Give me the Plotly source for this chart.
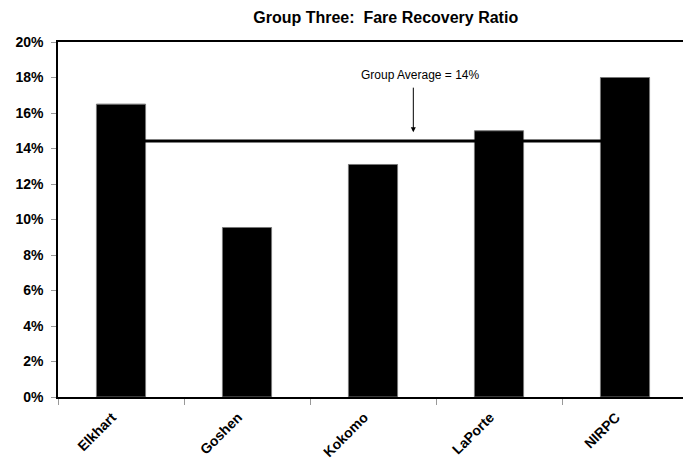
"""Group Three fare recovery ratio bar chart."""

import plotly.graph_objects as go

agencies = ["Elkhart", "Goshen", "Kokomo", "LaPorte", "NIRPC"]
fare_recovery = [16.5, 9.55, 13.1, 15.0, 18.0]
group_average = 14.42
avg_label = "Group Average = 14%"
y_ticks = [0, 2, 4, 6, 8, 10, 12, 14, 16, 18, 20]

font_family = "Arial, Liberation Sans, sans-serif"

fig = go.Figure()

# Average line sits behind the bars
fig.add_trace(go.Scatter(
    x=agencies,
    y=[group_average] * len(agencies),
    mode="lines",
    line=dict(color="black", width=3),
    hoverinfo="skip",
    showlegend=False,
))

fig.add_trace(go.Bar(
    x=agencies,
    y=fare_recovery,
    width=0.39,
    marker=dict(color="black", line=dict(color="#777777", width=1)),
    showlegend=False,
))

# Arrow pointing at the average line, label above it
fig.add_annotation(
    x=2.32, y=group_average + 0.5, xref="x", yref="y",
    text="", showarrow=True, arrowhead=2, arrowsize=1, arrowwidth=1,
    arrowcolor="black", ax=0, ay=-46,
)
fig.add_annotation(
    x=2.38, y=18.15, xref="x", yref="y",
    text=avg_label, showarrow=False,
    font=dict(family=font_family, size=12, color="black"),
)

# page body has an 8px margin, so the figure is sized to fit the window
fig.update_layout(
    width=683, height=455,
    margin=dict(l=50, r=3, t=34, b=66, autoexpand=False),
    plot_bgcolor="white", paper_bgcolor="white",
    title=dict(
        text="<b>Group Three:  Fare Recovery Ratio</b>",
        x=0.553, xanchor="center", y=0.991, yanchor="top",
        font=dict(family=font_family, size=16, color="black"),
    ),
    font=dict(family=font_family, color="black"),
    xaxis=dict(
        showline=True, linecolor="black", linewidth=1.5, mirror=True,
        ticks="outside", tickson="boundaries", ticklen=6, tickcolor="#999999",
        tickangle=-45, showgrid=False, automargin=False,
        ticklabelshift=-9, ticklabelstandoff=5,
        tickfont=dict(family=font_family, size=14, color="black", weight="bold"),
        range=[-0.5, 4.5],
    ),
    yaxis=dict(
        range=[0, 20], tickvals=y_ticks,
        ticktext=[f"{v}%" for v in y_ticks],
        showline=True, linecolor="black", linewidth=1.5,
        ticks="outside", ticklen=5, tickcolor="#999999",
        showgrid=False, zeroline=False, automargin=False,
        ticklabelstandoff=5,
        tickfont=dict(family=font_family, size=14, color="black", weight="bold"),
    ),
)

fig.write_html("out.html")
